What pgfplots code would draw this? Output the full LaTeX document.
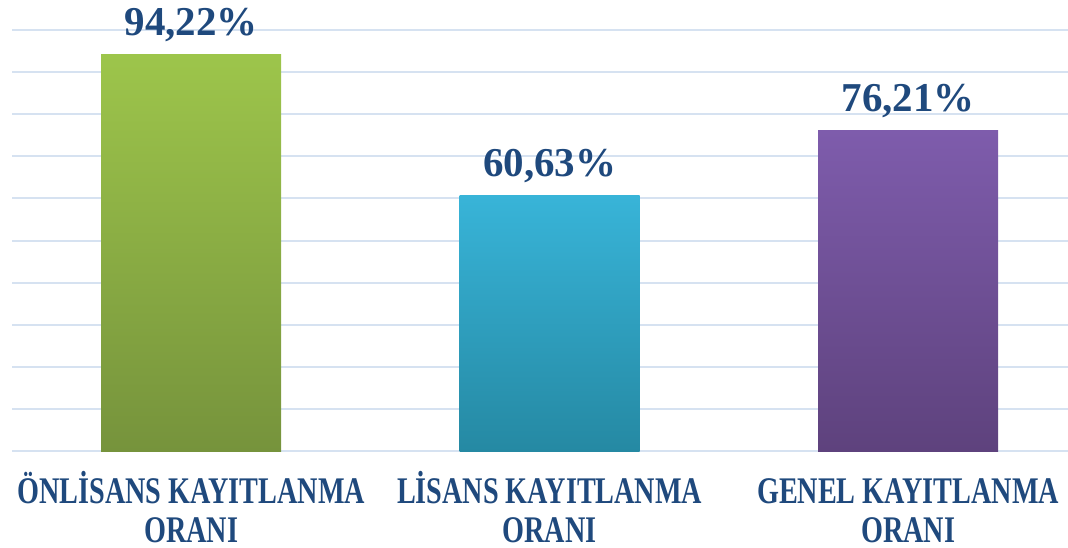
\documentclass[border=0pt]{standalone}
\usepackage{pgfplots}
\pgfplotsset{compat=1.18}
\usepackage{fontspec}
\setmainfont{Liberation Serif}
\newfontfamily\labelfont[FakeStretch=0.75]{Liberation Serif}
\definecolor{txt}{HTML}{1F497D}
\definecolor{gridc}{HTML}{D6E2F1}
\definecolor{gtop}{HTML}{9DC54B}
\definecolor{gbot}{HTML}{76933C}
\definecolor{btop}{HTML}{38B4D8}
\definecolor{bbot}{HTML}{2589A3}
\definecolor{ptop}{HTML}{7E5CAC}
\definecolor{pbot}{HTML}{5E427D}
\begin{document}
\begin{tikzpicture}[x=1pt,y=1pt]
\begin{axis}[
  at={(0,0)}, anchor=south west,
  scale only axis,
  width=528pt, height=210.5pt,
  xmin=-0.5, xmax=2.446,
  ymin=0, ymax=100,
  ytick={0,10,...,100},
  yticklabels={},
  ymajorgrids,
  major grid style={color=gridc, line width=1pt},
  axis line style={draw=none},
  tick style={draw=none},
  xtick={0,1,2},
  xticklabels={{ÖNLİSANS KAYITLANMA\\ORANI},{LİSANS KAYITLANMA\\ORANI},{\vphantom{Öİ}GENEL KAYITLANMA\\ORANI}},
  xticklabel style={align=center, text=txt, font=\labelfont\bfseries\fontsize{18.8}{19.5}\selectfont, anchor=north, inner sep=0.5pt, yshift=-9.5pt},
  nodes near coords={\pgfmathprintnumber[fixed,fixed zerofill,precision=2,use comma,assume math mode=true]{\pgfplotspointmeta}\%},
  every node near coord/.append style={anchor=base, yshift=9.5pt, text=txt, font=\bfseries\fontsize{20.5}{22}\selectfont},
]
\addplot[ybar, bar width=90pt, bar shift=0pt, draw=none, top color=gtop, bottom color=gbot] coordinates {(0,94.22)};
\addplot[ybar, bar width=90pt, bar shift=0pt, draw=none, top color=btop, bottom color=bbot] coordinates {(1,60.63)};
\addplot[ybar, bar width=90pt, bar shift=0pt, draw=none, top color=ptop, bottom color=pbot] coordinates {(2,76.21)};
\end{axis}
\pgfresetboundingbox
\path[use as bounding box] (-6,-48) rectangle (528,225.5);
\end{tikzpicture}
\end{document}
